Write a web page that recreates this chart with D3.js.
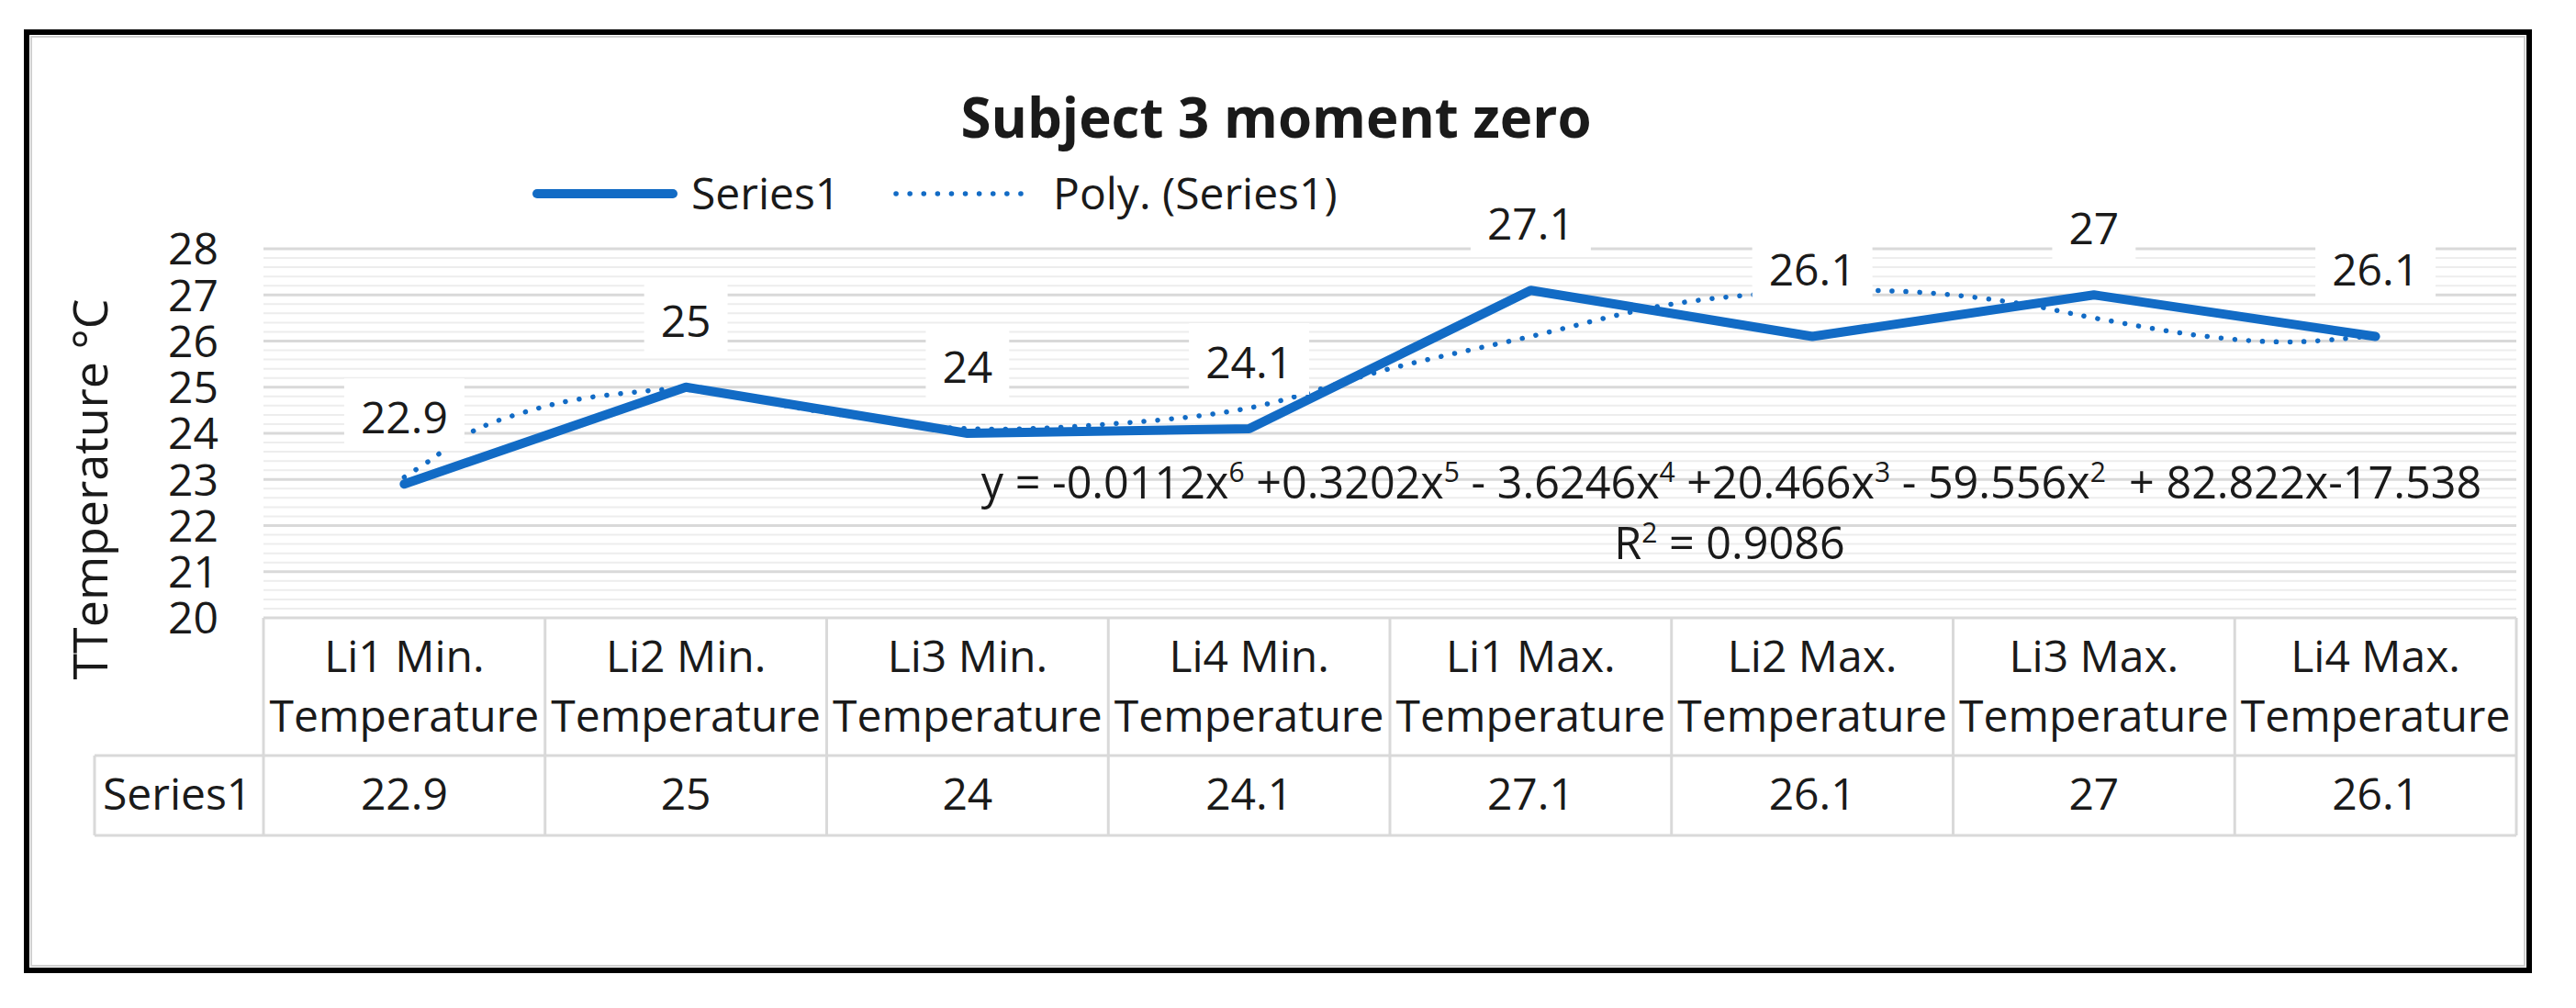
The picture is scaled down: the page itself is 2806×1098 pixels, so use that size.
<!DOCTYPE html>
<html>
<head>
<meta charset="utf-8">
<script src="https://cdnjs.cloudflare.com/ajax/libs/d3/7.8.5/d3.min.js"></script>
<style>
  body { margin: 0; background: #fff; }
  text { font-family: "Open Sans", Lato, sans-serif; fill: #1a1a1a; }
</style>
</head>
<body>
<div id="chart"></div>
<script>
// data
var categories = ["Li1 Min. Temperature", "Li2 Min. Temperature", "Li3 Min. Temperature", "Li4 Min. Temperature",
                  "Li1 Max. Temperature", "Li2 Max. Temperature", "Li3 Max. Temperature", "Li4 Max. Temperature"];
var catLine1 = ["Li1 Min.", "Li2 Min.", "Li3 Min.", "Li4 Min.", "Li1 Max.", "Li2 Max.", "Li3 Max.", "Li4 Max."];
var catLine2 = ["Temperature", "Temperature", "Temperature", "Temperature", "Temperature", "Temperature", "Temperature", "Temperature"];
var series1 = [22.9, 25, 24, 24.1, 27.1, 26.1, 27, 26.1];
var yTicks = [20, 21, 22, 23, 24, 25, 26, 27, 28];

// dotted trend curve as it is drawn (position 1..8 = category index)
var trendPos = [1.0, 1.1, 1.2, 1.3, 1.45, 1.6, 1.8, 2.0, 2.5, 3.0, 3.5, 4.0, 4.5, 5.0, 5.5, 6.0, 6.4, 6.75, 7.0, 7.4, 7.7, 8.0];
var trendVal = [23.05, 23.45, 23.9, 24.2, 24.5, 24.72, 24.88, 24.95, 24.45, 24.1, 24.2, 24.55, 25.4, 26.1, 26.8, 27.08, 27.05, 26.8, 26.5, 26.1, 25.98, 26.12];

var eqParts = [
  {t: "y = -0.0112x"}, {t: "6", sup: true},
  {t: " +0.3202x"}, {t: "5", sup: true},
  {t: " - 3.6246x"}, {t: "4", sup: true},
  {t: " +20.466x"}, {t: "3", sup: true},
  {t: " - 59.556x"}, {t: "2", sup: true},
  {t: "  + 82.822x-17.538"}
];
var r2Parts = [{t: "R"}, {t: "2", sup: true}, {t: " = 0.9086"}];

var W = 2806, H = 1098;
var blue = "#126bc5";
var gridMajor = "#d9d9d9", gridMinor = "#ededed";

var svg = d3.select("#chart").append("svg")
    .attr("width", W)
    .attr("height", H);

svg.append("rect").attr("width", W).attr("height", H).attr("fill", "#fff");

// chart border
svg.append("rect")
    .attr("x", 29).attr("y", 35)
    .attr("width", 2726).attr("height", 1022)
    .attr("fill", "none")
    .attr("stroke", "#000")
    .attr("stroke-width", 6);
svg.append("rect")
    .attr("x", 34).attr("y", 40)
    .attr("width", 2716).attr("height", 1012)
    .attr("fill", "none")
    .attr("stroke", "#d0d0d0")
    .attr("stroke-width", 2);

var plotLeft = 287, plotRight = 2741, plotTop = 271, plotBottom = 673;

var x = d3.scaleBand()
    .domain(categories)
    .range([plotLeft, plotRight])
    .padding(0);
var bw = x.bandwidth();

var y = d3.scaleLinear()
    .domain([20, 28])
    .range([plotBottom, plotTop]);

// index scale for the trend curve (1..n at category centres)
var xi = d3.scaleLinear()
    .domain([1, categories.length])
    .range([x(categories[0]) + bw / 2, x(categories[categories.length - 1]) + bw / 2]);

//
// gridlines
//
var minorTicks = d3.range(20, 28.001, 0.2).filter(function(v){ return Math.abs(v - Math.round(v)) > 0.01; });

svg.append("g").selectAll("line")
    .data(minorTicks)
    .join("line")
    .attr("x1", plotLeft).attr("x2", plotRight)
    .attr("y1", function(d){ return y(d); })
    .attr("y2", function(d){ return y(d); })
    .attr("stroke", gridMinor)
    .attr("stroke-width", 2);

svg.append("g").selectAll("line")
    .data(yTicks.slice(1))
    .join("line")
    .attr("x1", plotLeft).attr("x2", plotRight)
    .attr("y1", function(d){ return y(d); })
    .attr("y2", function(d){ return y(d); })
    .attr("stroke", gridMajor)
    .attr("stroke-width", 3);

//
// y axis labels
//
var yAxis = svg.append("g")
    .attr("transform", "translate(238,0)")
    .call(d3.axisLeft(y).tickValues(yTicks).tickSize(0).tickPadding(0).tickFormat(d3.format("d")));
yAxis.select(".domain").remove();
yAxis.selectAll("text")
    .attr("font-family", "Open Sans")
    .attr("font-size", "48px")
    .attr("fill", "#1a1a1a")
    .attr("dy", "0.35em");

svg.append("text")
    .attr("transform", "translate(117,533) rotate(-90)")
    .attr("text-anchor", "middle")
    .attr("font-size", "52px")
    .text("TTemperature °C");

//
// title + legend
//
svg.append("text")
    .attr("x", 1390).attr("y", 150)
    .attr("text-anchor", "middle")
    .attr("font-size", "60px")
    .attr("font-weight", "bold")
    .attr("fill", "#000")
    .text("Subject 3 moment zero");

svg.append("line")
    .attr("x1", 585).attr("x2", 733)
    .attr("y1", 211).attr("y2", 211)
    .attr("stroke", blue)
    .attr("stroke-width", 10)
    .attr("stroke-linecap", "round");
svg.append("text")
    .attr("x", 753).attr("y", 228)
    .attr("font-size", "48px")
    .text("Series1");

svg.append("line")
    .attr("x1", 976).attr("x2", 1119)
    .attr("y1", 211).attr("y2", 211)
    .attr("stroke", blue)
    .attr("stroke-width", 5.5)
    .attr("stroke-linecap", "round")
    .attr("stroke-dasharray", "0.1,15");
svg.append("text")
    .attr("x", 1147).attr("y", 228)
    .attr("font-size", "48px")
    .text("Poly. (Series1)");

//
// dotted polynomial trend
//
svg.append("path")
    .datum(trendVal)
    .attr("fill", "none")
    .attr("stroke", blue)
    .attr("stroke-width", 5.5)
    .attr("stroke-linecap", "round")
    .attr("stroke-dasharray", "0.1,15")
    .attr("d", d3.line()
      .curve(d3.curveCatmullRom.alpha(0.5))
      .x(function(d, i){ return xi(trendPos[i]); })
      .y(function(d){ return y(d); }));

//
// series line
//
svg.append("path")
    .datum(series1)
    .attr("fill", "none")
    .attr("stroke", blue)
    .attr("stroke-width", 10)
    .attr("stroke-linejoin", "round")
    .attr("stroke-linecap", "round")
    .attr("d", d3.line()
      .x(function(d, i){ return x(categories[i]) + bw / 2; })
      .y(function(d){ return y(d); }));

//
// data labels with white boxes
//
var labels = svg.append("g").selectAll("g")
    .data(series1)
    .join("g");
labels.append("text")
    .attr("x", function(d, i){ return x(categories[i]) + bw / 2; })
    .attr("y", function(d){ return y(d) - 55; })
    .attr("text-anchor", "middle")
    .attr("font-size", "48px")
    .text(function(d){ return d; });
labels.each(function(){
  var g = d3.select(this);
  var bb = g.select("text").node().getBBox();
  var base = +g.select("text").attr("y");
  g.insert("rect", "text")
    .attr("x", bb.x - 18)
    .attr("y", base - 60)
    .attr("width", bb.width + 36)
    .attr("height", 78)
    .attr("fill", "#fff");
});

//
// trendline equation
//
function richText(parts, cx, cy, size){
  var t = svg.append("text")
      .attr("x", cx).attr("y", cy)
      .attr("text-anchor", "middle")
      .attr("font-size", size + "px")
      .attr("xml:space", "preserve")
      .style("white-space", "pre");
  parts.forEach(function(p){
    t.append("tspan")
      .attr("font-size", p.sup ? (size * 0.62) + "px" : null)
      .attr("baseline-shift", p.sup ? (size * 0.38) + "px" : null)
      .text(p.t);
  });
  return t;
}
richText(eqParts, 1886, 543, 48.5);
richText(r2Parts, 1884, 609, 48.5);

//
// data table
//
var table = svg.append("g")
    .attr("stroke", gridMajor)
    .attr("stroke-width", 3);
var rowTop = plotBottom, rowMid = 823, rowBot = 910, labelLeft = 103;

table.append("line").attr("x1", plotLeft).attr("x2", plotRight).attr("y1", rowTop).attr("y2", rowTop);
table.append("line").attr("x1", labelLeft).attr("x2", plotRight).attr("y1", rowMid).attr("y2", rowMid);
table.append("line").attr("x1", labelLeft).attr("x2", plotRight).attr("y1", rowBot).attr("y2", rowBot);
table.append("line").attr("x1", labelLeft).attr("x2", labelLeft).attr("y1", rowMid).attr("y2", rowBot);
table.selectAll("line.v")
    .data(categories.concat(["end"]))
    .join("line")
    .attr("class", "v")
    .attr("x1", function(d){ return d === "end" ? plotRight : x(d); })
    .attr("x2", function(d){ return d === "end" ? plotRight : x(d); })
    .attr("y1", rowTop).attr("y2", rowBot);

svg.append("g").selectAll("text")
    .data(catLine1)
    .join("text")
    .attr("x", function(d, i){ return x(categories[i]) + bw / 2; })
    .attr("y", 732)
    .attr("text-anchor", "middle")
    .attr("font-size", "48px")
    .text(function(d){ return d; });

svg.append("g").selectAll("text")
    .data(catLine2)
    .join("text")
    .attr("x", function(d, i){ return x(categories[i]) + bw / 2; })
    .attr("y", 797)
    .attr("text-anchor", "middle")
    .attr("font-size", "48px")
    .text(function(d){ return d; });

svg.append("g").selectAll("text")
    .data(series1)
    .join("text")
    .attr("x", function(d, i){ return x(categories[i]) + bw / 2; })
    .attr("y", 882)
    .attr("text-anchor", "middle")
    .attr("font-size", "48px")
    .text(function(d){ return d; });

svg.append("text")
    .attr("x", 112).attr("y", 882)
    .attr("font-size", "48px")
    .text("Series1");
</script>
</body>
</html>
